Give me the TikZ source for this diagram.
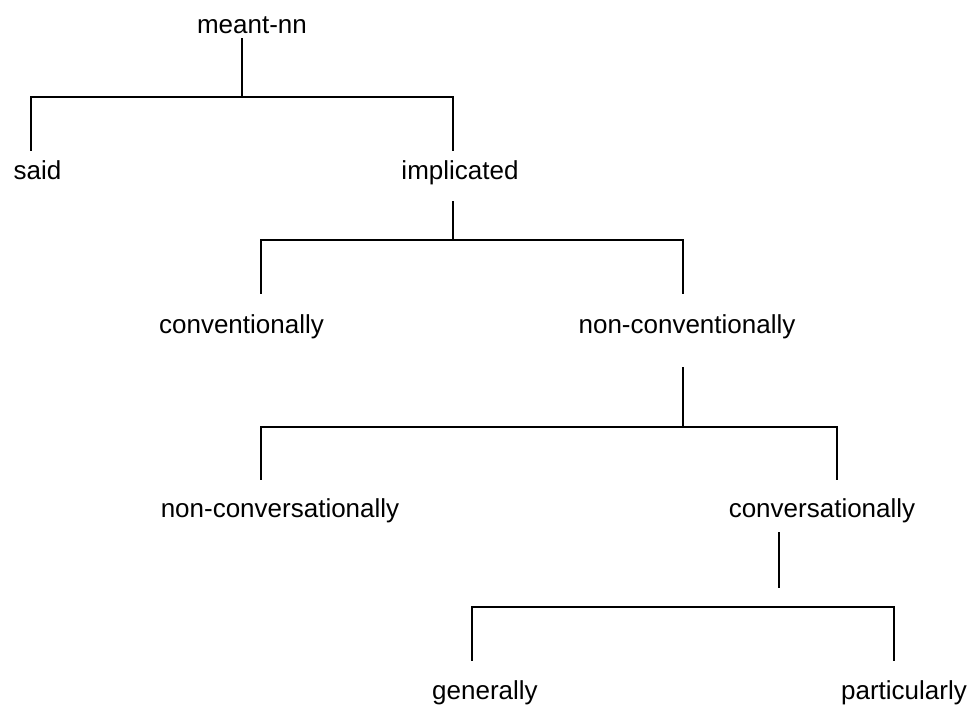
\documentclass[tikz,border=0pt]{standalone}
\usepackage{fontspec}
\setmainfont{Liberation Sans}
\begin{document}
\begin{tikzpicture}[x=1pt,y=-1pt,
  lbl/.style={anchor=base,inner sep=0pt,font=\fontsize{26}{30}\selectfont},
  tree/.style={line width=1.7pt,line cap=rect}]
\useasboundingbox (0,0) rectangle (975,710);
% labels
\node[lbl] (meant) at (252,33) {meant-nn};
\node[lbl] (said) at (37.5,179) {said};
\node[lbl] (impl) at (460,179) {implicated};
\node[lbl] (conv) at (241.5,333) {conventionally};
\node[lbl] (nconv) at (687,333) {non-conventionally};
\node[lbl] (nconvers) at (280,517) {non-conversationally};
\node[lbl] (convers) at (822,517) {conversationally};
\node[lbl] (gen) at (485,699) {generally};
\node[lbl] (part) at (904,699) {particularly};
% junction coordinates
\coordinate (a0) at (242,39);  \coordinate (a1) at (242,97);
\coordinate (aL) at (31,97);   \coordinate (aR) at (453,97);
\coordinate (aLb) at (31,150); \coordinate (aRb) at (453,150);
\coordinate (b0) at (453,202); \coordinate (b1) at (453,240);
\coordinate (bL) at (261,240); \coordinate (bR) at (683,240);
\coordinate (bLb) at (261,293);\coordinate (bRb) at (683,293);
\coordinate (c0) at (683,368); \coordinate (c1) at (683,427);
\coordinate (cL) at (261,427); \coordinate (cR) at (837,427);
\coordinate (cLb) at (261,479);\coordinate (cRb) at (837,479);
\coordinate (d0) at (779,533); \coordinate (d1) at (779,587);
\coordinate (dL) at (472,607); \coordinate (dR) at (894,607);
\coordinate (dLb) at (472,660);\coordinate (dRb) at (894,660);
% connectors
\draw[tree] (a0) -- (a1);
\draw[tree] (aLb) -- (aL) -- (aR) -- (aRb);
\draw[tree] (b0) -- (b1);
\draw[tree] (bLb) -- (bL) -- (bR) -- (bRb);
\draw[tree] (c0) -- (c1);
\draw[tree] (cLb) -- (cL) -- (cR) -- (cRb);
\draw[tree] (d0) -- (d1);
\draw[tree] (dLb) -- (dL) -- (dR) -- (dRb);
\end{tikzpicture}
\end{document}
